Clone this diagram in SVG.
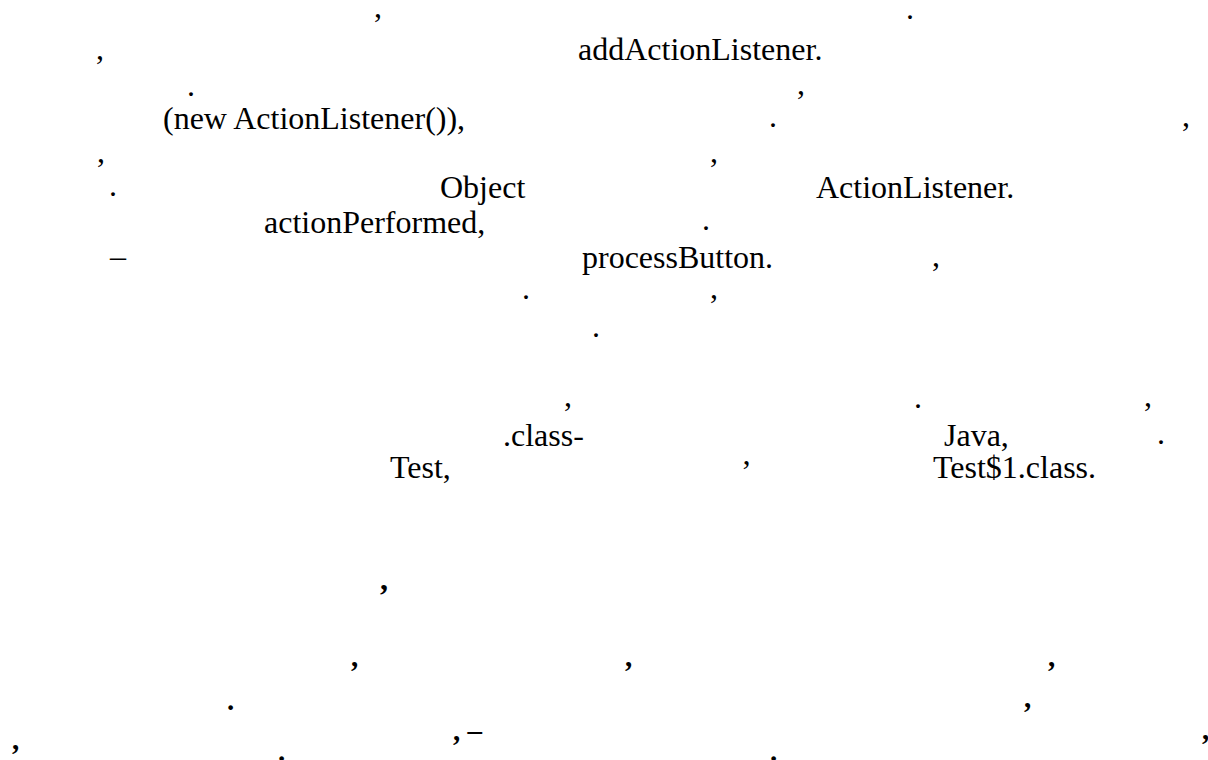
<svg xmlns="http://www.w3.org/2000/svg" width="1208" height="760" viewBox="0 0 1208 760">
<style>
text{font-family:"Liberation Serif","Times New Roman",serif;font-size:32px;fill:#000}
.b{font-weight:bold}
.s{font-size:29px;font-weight:bold}
</style>
<rect width="1208" height="760" fill="#fff"/>
<g id="text">
<text x="374" y="17">,</text><text x="906" y="19">.</text>
<text x="96" y="59">,</text><text x="578" y="60">addActionListener.</text>
<text x="187" y="96">.</text><text x="797" y="94">,</text>
<text x="163" y="129">(new ActionListener()),</text><text x="769" y="127">.</text><text x="1182" y="126">,</text>
<text x="97" y="162">,</text><text x="710" y="162">,</text>
<text x="109" y="196">.</text><text x="440" y="198">Object</text><text x="816" y="198">ActionListener.</text>
<text x="264" y="233">actionPerformed,</text><text x="702" y="230">.</text>
<text x="110" y="267">–</text><text x="582" y="268">processButton.</text><text x="932" y="266">,</text>
<text x="522" y="299">.</text><text x="710" y="298">,</text>
<text x="592" y="337">.</text>
<text x="564" y="406">,</text><text x="914" y="408">.</text><text x="1144" y="406">,</text>
<text x="503" y="446">.class-</text><text x="944" y="446">Java,</text><text x="1157" y="444">.</text>
<text x="390" y="478">Test,</text><text x="741" y="482">’</text><text x="933" y="478">Test$1.class.</text>
<text class="b" x="380" y="590">,</text>
<text class="s" x="351" y="666">,</text><text class="s" x="625" y="666">,</text><text class="s" x="1048" y="666">,</text>
<text class="s" x="227" y="710">.</text><text class="s" x="1024" y="707">,</text>
<text class="s" x="453" y="740">, –</text><text class="s" x="1202" y="739">,</text>
<text class="s" x="12" y="749">,</text><text class="s" x="278" y="761">.</text><text class="s" x="770" y="761">.</text>
</g>
</svg>
